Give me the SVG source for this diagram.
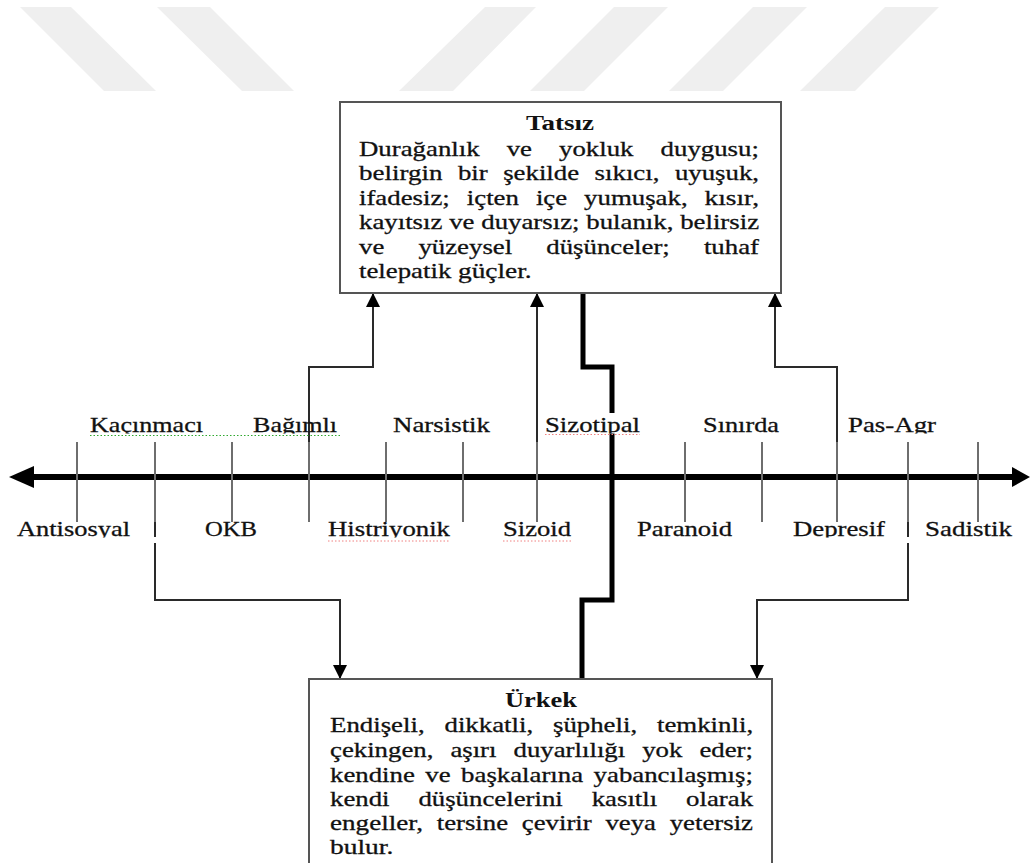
<svg xmlns="http://www.w3.org/2000/svg" width="1030" height="863" viewBox="0 0 1030 863">
  <style>
    .wm { fill: #efefef; }
    .axis { stroke: #000; stroke-width: 6; fill: none; }
    .tick { stroke: #6e6e6e; stroke-width: 2; fill: none; }
    .conn { stroke: #2a2a2a; stroke-width: 2; fill: none; }
    .spine { stroke: #000; stroke-width: 5; fill: none; stroke-linejoin: miter; }
    .box { fill: #fff; stroke: #555; stroke-width: 2; }
    .lbl { font-family: "Liberation Serif", "Times New Roman", serif; font-size: 22px; fill: #111; stroke: #111; stroke-width: 0.3; }
    .body { font-family: "Liberation Serif", "Times New Roman", serif; font-size: 21.5px; fill: #111; stroke: #111; stroke-width: 0.3; }
    .title { font-family: "Liberation Serif", "Times New Roman", serif; font-size: 20.5px; font-weight: bold; fill: #111; text-anchor: middle; }
    .spell-g { stroke: #2fa82f; stroke-width: 1; stroke-dasharray: 1.5 2; }
    .spell-r { stroke: #f08080; stroke-width: 1; stroke-dasharray: 1.5 2; }
  </style>
  <defs>
    <marker id="arrow" markerUnits="userSpaceOnUse" markerWidth="14" markerHeight="14" refX="13" refY="7" orient="auto">
      <path d="M0,0 L14,7 L0,14 z" fill="#000"/>
    </marker>
    <clipPath id="clip-top"><rect x="0" y="400" width="1030" height="33.5"/></clipPath>
    <clipPath id="clip-bottom"><rect x="0" y="505" width="1030" height="32.5"/></clipPath>
  </defs>

  <rect width="1030" height="863" fill="#fff"/>

  <!-- faint slanted bands along the top edge -->
  <g id="watermark">
    <polygon class="wm" points="20,7 71,7 156,91 104,91"/>
    <polygon class="wm" points="157,7 210,7 294,91 242,91"/>
    <polygon class="wm" points="485,7 536,7 453,91 399,91"/>
    <polygon class="wm" points="614,7 668,7 584,91 530,91"/>
    <polygon class="wm" points="753,7 807,7 723,91 669,91"/>
    <polygon class="wm" points="885,7 939,7 855,91 800,91"/>
  </g>

  <!-- horizontal spectrum axis with tick marks -->
  <g id="axis">
    <line class="axis" x1="30" y1="477" x2="1014" y2="477"/>
    <polygon points="9,477 34,466 34,488" fill="#000"/>
    <polygon points="1030,477 1012,467 1012,487" fill="#000"/>
    <path class="tick" d="M77,442 V522 M155,442 V522 M232,442 V522 M309,442 V522 M386,442 V522 M463,442 V522 M537,442 V522 M685,442 V522 M762,442 V522 M837,442 V522 M908,442 V522 M978,442 V522"/>
  </g>

  <g id="connectors">
    <path class="conn" d="M309,442 V367 H373 V294" marker-end="url(#arrow)"/>
    <path class="conn" d="M537,442 V294" marker-end="url(#arrow)"/>
    <path class="conn" d="M837,442 V367 H775 V294" marker-end="url(#arrow)"/>
    <path class="conn" d="M155,522 V537"/>
    <path class="conn" d="M155,543 V600 H340 V678" marker-end="url(#arrow)"/>
    <path class="conn" d="M908,522 V537"/>
    <path class="conn" d="M908,543 V600 H757 V678" marker-end="url(#arrow)"/>
    <path class="spine" d="M583,293 V367 H612 V600 H582 V679"/>
  </g>

  <g id="node-tatsiz">
    <rect class="box" x="340" y="102" width="441" height="191"/>
    <text class="title" x="560" y="130" textLength="68" lengthAdjust="spacingAndGlyphs">Tatsız</text>
    <g class="body">
      <text x="359" y="155.5" textLength="120.6" lengthAdjust="spacingAndGlyphs">Durağanlık</text>
      <text x="506.7" y="155.5" textLength="25.3" lengthAdjust="spacingAndGlyphs">ve</text>
      <text x="559.1" y="155.5" textLength="74.4" lengthAdjust="spacingAndGlyphs">yokluk</text>
      <text x="660.6" y="155.5" textLength="98.3" lengthAdjust="spacingAndGlyphs">duygusu;</text>

      <text x="359" y="180" textLength="83.4" lengthAdjust="spacingAndGlyphs">belirgin</text>
      <text x="457.9" y="180" textLength="29.8" lengthAdjust="spacingAndGlyphs">bir</text>
      <text x="503.2" y="180" textLength="75.9" lengthAdjust="spacingAndGlyphs">şekilde</text>
      <text x="594.6" y="180" textLength="64.8" lengthAdjust="spacingAndGlyphs">sıkıcı,</text>
      <text x="674.9" y="180" textLength="84.1" lengthAdjust="spacingAndGlyphs">uyuşuk,</text>

      <text x="359" y="204.5" textLength="90.8" lengthAdjust="spacingAndGlyphs">ifadesiz;</text>
      <text x="466.8" y="204.5" textLength="52.1" lengthAdjust="spacingAndGlyphs">içten</text>
      <text x="535.9" y="204.5" textLength="31.2" lengthAdjust="spacingAndGlyphs">içe</text>
      <text x="584.1" y="204.5" textLength="103.5" lengthAdjust="spacingAndGlyphs">yumuşak,</text>
      <text x="704.6" y="204.5" textLength="54.4" lengthAdjust="spacingAndGlyphs">kısır,</text>

      <text x="359" y="229" textLength="83.4" lengthAdjust="spacingAndGlyphs">kayıtsız</text>
      <text x="449.2" y="229" textLength="25.3" lengthAdjust="spacingAndGlyphs">ve</text>
      <text x="481.3" y="229" textLength="98.2" lengthAdjust="spacingAndGlyphs">duyarsız;</text>
      <text x="586.3" y="229" textLength="87.1" lengthAdjust="spacingAndGlyphs">bulanık,</text>
      <text x="680.2" y="229" textLength="78.9" lengthAdjust="spacingAndGlyphs">belirsiz</text>

      <text x="359" y="253.5" textLength="25.3" lengthAdjust="spacingAndGlyphs">ve</text>
      <text x="418.4" y="253.5" textLength="93.8" lengthAdjust="spacingAndGlyphs">yüzeysel</text>
      <text x="546.3" y="253.5" textLength="123.5" lengthAdjust="spacingAndGlyphs">düşünceler;</text>
      <text x="703.9" y="253.5" textLength="55.1" lengthAdjust="spacingAndGlyphs">tuhaf</text>

      <text x="359" y="278" textLength="92.3" lengthAdjust="spacingAndGlyphs">telepatik</text>
      <text x="458" y="278" textLength="73.7" lengthAdjust="spacingAndGlyphs">güçler.</text>
    </g>
  </g>

  <g id="node-urkek">
    <rect class="box" x="309" y="679" width="463" height="200"/>
    <text class="title" x="541" y="707" textLength="72" lengthAdjust="spacingAndGlyphs">Ürkek</text>
    <g class="body">
      <text x="330" y="732" textLength="94.6" lengthAdjust="spacingAndGlyphs">Endişeli,</text>
      <text x="444.5" y="732" textLength="88.6" lengthAdjust="spacingAndGlyphs">dikkatli,</text>
      <text x="553" y="732" textLength="84.1" lengthAdjust="spacingAndGlyphs">şüpheli,</text>
      <text x="657" y="732" textLength="96.1" lengthAdjust="spacingAndGlyphs">temkinli,</text>

      <text x="330" y="757" textLength="103.4" lengthAdjust="spacingAndGlyphs">çekingen,</text>
      <text x="450.4" y="757" textLength="46.1" lengthAdjust="spacingAndGlyphs">aşırı</text>
      <text x="513.5" y="757" textLength="111.7" lengthAdjust="spacingAndGlyphs">duyarlılığı</text>
      <text x="642.2" y="757" textLength="40.2" lengthAdjust="spacingAndGlyphs">yok</text>
      <text x="699.4" y="757" textLength="53.6" lengthAdjust="spacingAndGlyphs">eder;</text>

      <text x="330" y="782" textLength="84.8" lengthAdjust="spacingAndGlyphs">kendine</text>
      <text x="425.3" y="782" textLength="25.3" lengthAdjust="spacingAndGlyphs">ve</text>
      <text x="461.1" y="782" textLength="122" lengthAdjust="spacingAndGlyphs">başkalarına</text>
      <text x="593.6" y="782" textLength="159.3" lengthAdjust="spacingAndGlyphs">yabancılaşmış;</text>

      <text x="330" y="806" textLength="59.5" lengthAdjust="spacingAndGlyphs">kendi</text>
      <text x="418.4" y="806" textLength="144.4" lengthAdjust="spacingAndGlyphs">düşüncelerini</text>
      <text x="591.7" y="806" textLength="65.5" lengthAdjust="spacingAndGlyphs">kasıtlı</text>
      <text x="686.1" y="806" textLength="67" lengthAdjust="spacingAndGlyphs">olarak</text>

      <text x="330" y="830" textLength="93" lengthAdjust="spacingAndGlyphs">engeller,</text>
      <text x="436.7" y="830" textLength="71.4" lengthAdjust="spacingAndGlyphs">tersine</text>
      <text x="521.8" y="830" textLength="69.9" lengthAdjust="spacingAndGlyphs">çevirir</text>
      <text x="605.4" y="830" textLength="50.6" lengthAdjust="spacingAndGlyphs">veya</text>
      <text x="669.7" y="830" textLength="83.3" lengthAdjust="spacingAndGlyphs">yetersiz</text>

      <text x="330" y="854" textLength="63.3" lengthAdjust="spacingAndGlyphs">bulur.</text>
    </g>
  </g>

  <!-- disorder labels above the axis -->
  <g clip-path="url(#clip-top)">
    <g id="label-kacinmaci"><text class="lbl" x="90" y="432" textLength="113" lengthAdjust="spacingAndGlyphs">Kaçınmacı</text></g>
    <g id="label-bagimli"><text class="lbl" x="253" y="432" textLength="84" lengthAdjust="spacingAndGlyphs">Bağımlı</text></g>
    <g id="label-narsistik"><text class="lbl" x="393" y="432" textLength="97" lengthAdjust="spacingAndGlyphs">Narsistik</text></g>
    <g id="label-sizotipal">
      <rect x="606" y="413" width="13" height="24" fill="#fff"/>
      <text class="lbl" x="545" y="432" textLength="95" lengthAdjust="spacingAndGlyphs">Sizotipal</text>
    </g>
    <g id="label-sinirda"><text class="lbl" x="703" y="432" textLength="76" lengthAdjust="spacingAndGlyphs">Sınırda</text></g>
    <g id="label-pasagr"><text class="lbl" x="848" y="432" textLength="88" lengthAdjust="spacingAndGlyphs">Pas-Agr</text></g>
  </g>
  <line class="spell-g" x1="90" y1="435.5" x2="340" y2="435.5"/>
  <line class="spell-r" x1="545" y1="434.5" x2="640" y2="434.5"/>

  <!-- disorder labels below the axis -->
  <g clip-path="url(#clip-bottom)">
    <g id="label-antisosyal"><text class="lbl" x="17" y="536" textLength="113" lengthAdjust="spacingAndGlyphs">Antisosyal</text></g>
    <g id="label-okb"><text class="lbl" x="205" y="536" textLength="52" lengthAdjust="spacingAndGlyphs">OKB</text></g>
    <g id="label-histriyonik"><text class="lbl" x="328" y="536" textLength="122" lengthAdjust="spacingAndGlyphs">Histriyonik</text></g>
    <g id="label-sizoid"><text class="lbl" x="503" y="536" textLength="68" lengthAdjust="spacingAndGlyphs">Sizoid</text></g>
    <g id="label-paranoid"><text class="lbl" x="637" y="536" textLength="95" lengthAdjust="spacingAndGlyphs">Paranoid</text></g>
    <g id="label-depresif"><text class="lbl" x="793" y="536" textLength="92" lengthAdjust="spacingAndGlyphs">Depresif</text></g>
    <g id="label-sadistik"><text class="lbl" x="925" y="536" textLength="87" lengthAdjust="spacingAndGlyphs">Sadistik</text></g>
  </g>
  <line class="spell-r" x1="328" y1="541" x2="450" y2="541"/>
  <line class="spell-r" x1="503" y1="541" x2="571" y2="541"/>
</svg>
